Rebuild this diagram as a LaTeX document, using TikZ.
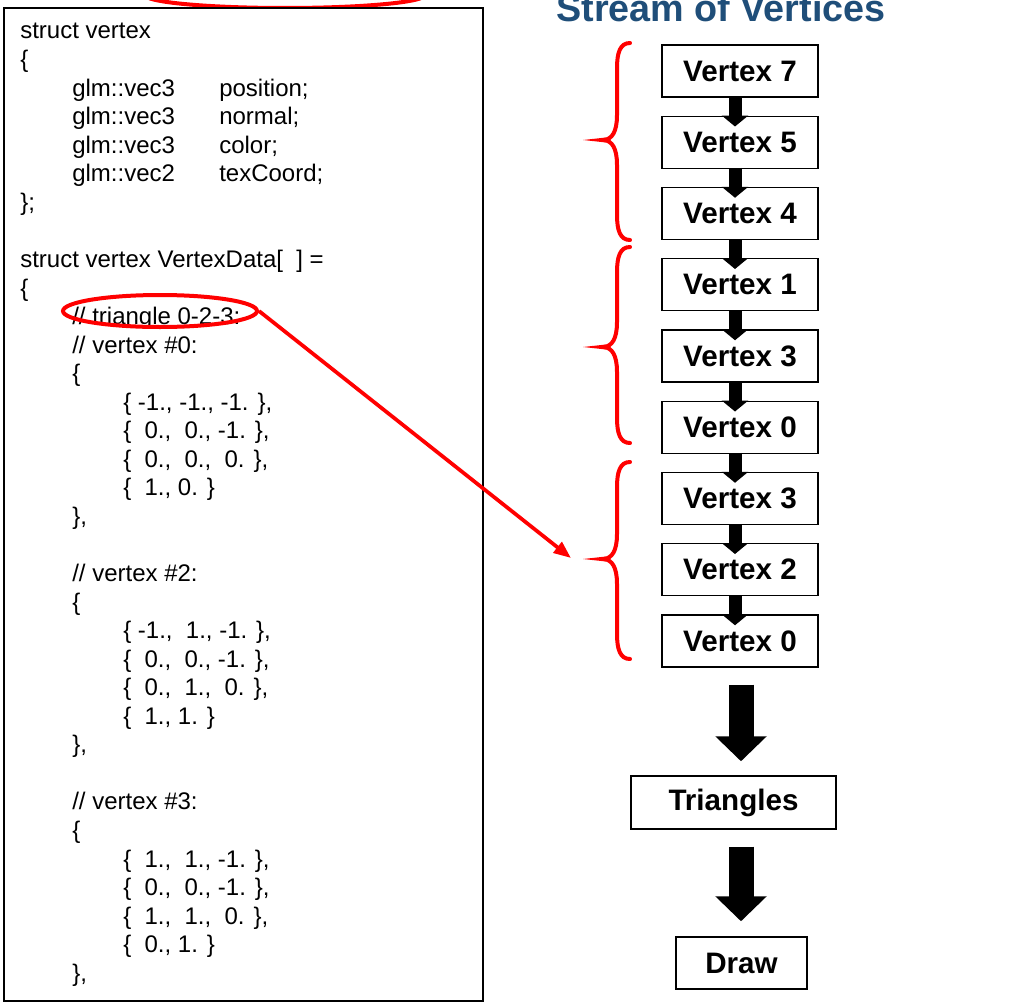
\documentclass[tikz,border=0pt]{standalone}
\usepackage{fontspec}
\setmainfont{Liberation Sans}
\usetikzlibrary{arrows.meta,calc,shapes.geometric}
\newcommand\codefont{\fontsize{18}{21}\selectfont}
\newcommand\vtxfont{\fontsize{22.2}{26}\selectfont\bfseries}
\newcommand\ttlfont{\fontsize{28.3}{32}\selectfont\bfseries}
\definecolor{ttlblue}{RGB}{31,78,121}
\begin{document}
\begin{tikzpicture}[x=0.75pt,y=-0.75pt,
  code/.style={font=\codefont, anchor=base west, inner sep=0pt},
  vbox/.style={draw=black, line width=1.1pt, fill=white, font=\vtxfont,
    minimum width=156*0.75pt, minimum height=52*0.75pt, inner sep=0pt},
  smallarr/.style={line width=9.75pt, -{Triangle[width=19.5pt,length=8.25pt]}},
  bigarr/.style={line width=18.75pt, -{Triangle[width=37.5pt,length=18.75pt]}},
  redbrace/.style={draw=red, line width=3pt, line cap=round},
  redline/.style={draw=red, line width=2.8pt}]
\useasboundingbox (0,0) rectangle (1024,1006);
\fill[white] (0,0) rectangle (1024,1006);
\begin{scope}
\clip (0,0) rectangle (1024,1006);
\draw[redline, line width=3pt] (285,-5) ellipse [x radius=140, y radius=13];
\end{scope}

% code box
\draw[line width=1.1pt, fill=white] (4,8) rectangle (483,1001);

\node[code] (c0) at (20,39) {struct vertex};
\node[code] (c1) at (20,67.6) {\{};
\node[code] (c2) at (72,96.1) {glm::vec3};
\node[code] (c2b) at (219,96.1) {position;};
\node[code] (c3) at (72,124.7) {glm::vec3};
\node[code] (c3b) at (219,124.7) {normal;};
\node[code] (c4) at (72,153.2) {glm::vec3};
\node[code] (c4b) at (219,153.2) {color;};
\node[code] (c5) at (72,181.8) {glm::vec2};
\node[code] (c5b) at (219,181.8) {texCoord;};
\node[code] (c6) at (20,210.3) {\};};
\node[code] (c8) at (20,267.4) {struct vertex VertexData[\ \ ] =};
\node[code] (c9) at (20,296) {\{};
\node[code] (c10) at (72,324.5) {// triangle 0-2-3:};
\node[code] (c11) at (72,353.1) {// vertex \#0:};
\node[code] (c12) at (72,381.6) {\{};
\node[code] (c13) at (123,410.2) {\{ -1., -1., -1. \},};
\node[code] (c14) at (123,438.7) {\{\ \ 0.,\ \ 0., -1. \},};
\node[code] (c15) at (123,467.3) {\{\ \ 0.,\ \ 0.,\ \ 0. \},};
\node[code] (c16) at (123,495.8) {\{\ \ 1., 0. \}};
\node[code] (c17) at (72,524.4) {\},};
\node[code] (c19) at (72,581.5) {// vertex \#2:};
\node[code] (c20) at (72,610) {\{};
\node[code] (c21) at (123,638.6) {\{ -1.,\ \ 1., -1. \},};
\node[code] (c22) at (123,667.1) {\{\ \ 0.,\ \ 0., -1. \},};
\node[code] (c23) at (123,695.7) {\{\ \ 0.,\ \ 1.,\ \ 0. \},};
\node[code] (c24) at (123,724.2) {\{\ \ 1., 1. \}};
\node[code] (c25) at (72,752.8) {\},};
\node[code] (c27) at (72,809.9) {// vertex \#3:};
\node[code] (c28) at (72,838.4) {\{};
\node[code] (c29) at (123,867) {\{\ \ 1.,\ \ 1., -1. \},};
\node[code] (c30) at (123,895.5) {\{\ \ 0.,\ \ 0., -1. \},};
\node[code] (c31) at (123,924.1) {\{\ \ 1.,\ \ 1.,\ \ 0. \},};
\node[code] (c32) at (123,952.6) {\{\ \ 0., 1. \}};
\node[code] (c33) at (72,981.2) {\},};

% title
\node[font=\ttlfont, text=ttlblue, anchor=base west, inner sep=0pt] (title) at (556,22) {Stream of Vertices};

% vertex boxes
\node[vbox] (v1) at (740,71) {Vertex 7};
\node[vbox] (v2) at (740,142.25) {Vertex 5};
\node[vbox] (v3) at (740,213.5) {Vertex 4};
\node[vbox] (v4) at (740,284.75) {Vertex 1};
\node[vbox] (v5) at (740,356) {Vertex 3};
\node[vbox] (v6) at (740,427.25) {Vertex 0};
\node[vbox] (v7) at (740,498.5) {Vertex 3};
\node[vbox] (v8) at (740,569.75) {Vertex 2};
\node[vbox] (v9) at (740,641) {Vertex 0};
\node[vbox, minimum width=205*0.75pt, minimum height=53*0.75pt] (tri) at (733.5,802.5) {Triangles};
\node[vbox, minimum width=131*0.75pt] (drw) at (741.5,963) {Draw};

% small arrows
\foreach \a/\b in {v1/v2,v2/v3,v3/v4,v4/v5,v5/v6,v6/v7,v7/v8,v8/v9}{
  \draw[smallarr] ($(\a.south)+(-5,-1)$) -- ($(\b.north)+(-5,11)$);
}
% big arrows
\draw[bigarr] ($(v9.south)+(1,17)$) -- ($(v9.south |- tri.north)+(1,-14)$);
\draw[bigarr] ($(v9.south |- tri.south)+(1,17)$) -- ($(v9.south |- drw.north)+(1,-15)$);

% red braces
\foreach \t/\m/\b in {43/140/240, 247/347/443, 462/559/659}{
  \draw[redbrace] (630,\t) .. controls (620,\t) and (617,\t+10) .. (617,\t+25)
     -- (617,\m-25) .. controls (617,\m-8) and (612,\m-1) .. (604,\m)
     .. controls (612,\m+1) and (617,\m+8) .. (617,\m+25)
     -- (617,\b-25) .. controls (617,\b-10) and (620,\b) .. (630,\b);
  \fill[red] (606,\m-2.5) -- (583,\m) -- (606,\m+2.5) -- cycle;
}

% red ellipse and arrow
\node[draw=red, line width=3pt, ellipse, minimum width=194*0.75pt, minimum height=32*0.75pt, inner sep=0pt] (ell) at (160,311) {};
\coordinate (aend) at (571,558);
\draw[redline, -{Triangle[width=10pt,length=13pt]}] (ell.east) -- (aend);
\end{tikzpicture}
\end{document}
